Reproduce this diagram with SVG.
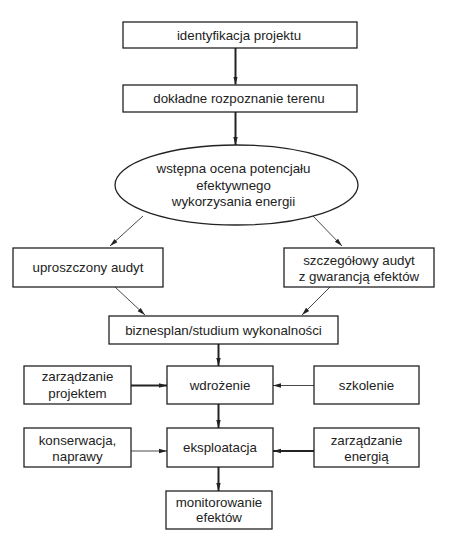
<svg xmlns="http://www.w3.org/2000/svg" width="471" height="540" viewBox="0 0 471 540">
<defs>
<style>
.box{fill:#fff;stroke:#222;stroke-width:1.3}
.t{font-family:"Liberation Sans",Arial,sans-serif;font-size:13.3px;fill:#222;text-anchor:middle}
.thick{stroke:#222;stroke-width:2;fill:none}
.thin{stroke:#333;stroke-width:0.9;fill:none}
</style>
<marker id="ah" viewBox="0 0 8 6" refX="8" refY="3" markerWidth="8" markerHeight="6" markerUnits="userSpaceOnUse" orient="auto">
<path d="M0,0.8 L8,3 L0,5.2 Z" fill="#222"/>
</marker>
</defs>
<rect width="471" height="540" fill="#fff"/>
<g id="connectors">
<line class="thick" x1="235.5" y1="48" x2="235.5" y2="84.5" marker-end="url(#ah)"/>
<line class="thick" x1="235.5" y1="112" x2="235.5" y2="145" marker-end="url(#ah)"/>
<line class="thin" x1="143" y1="216" x2="110" y2="246" marker-end="url(#ah)"/>
<line class="thin" x1="313" y1="216" x2="342" y2="246" marker-end="url(#ah)"/>
<line class="thin" x1="115" y1="287" x2="145" y2="315" marker-end="url(#ah)"/>
<line class="thin" x1="330" y1="287" x2="302" y2="315" marker-end="url(#ah)"/>
<line class="thick" x1="218.5" y1="344" x2="218.5" y2="366" marker-end="url(#ah)"/>
<line class="thick" x1="131" y1="385.5" x2="167" y2="385.5" marker-end="url(#ah)"/>
<line class="thin" x1="314" y1="385.5" x2="273" y2="385.5" marker-end="url(#ah)"/>
<line class="thick" x1="218.5" y1="404" x2="218.5" y2="428" marker-end="url(#ah)"/>
<line class="thin" x1="131" y1="451" x2="167" y2="451" marker-end="url(#ah)"/>
<line class="thick" x1="314" y1="451" x2="273" y2="451" marker-end="url(#ah)"/>
<line class="thick" x1="218.5" y1="467" x2="218.5" y2="491" marker-end="url(#ah)"/>
</g>
<g id="n1"><rect class="box" x="123" y="22" width="234" height="26"/><text class="t" x="239" y="39.7">identyfikacja projektu</text></g>
<g id="n2"><rect class="box" x="123" y="85" width="234" height="27"/><text class="t" x="239" y="103.2">dokładne rozpoznanie terenu</text></g>
<g id="n3"><ellipse class="box" cx="236.5" cy="185" rx="121.5" ry="40"/>
<text class="t" x="233.5" y="172.7">wstępna ocena potencjału</text>
<text class="t" x="233.5" y="189.5">efektywnego</text>
<text class="t" x="233.5" y="206">wykorzysania energii</text></g>
<g id="n4"><rect class="box" x="13" y="248" width="150" height="39"/><text class="t" x="88" y="272.2">uproszczony audyt</text></g>
<g id="n5"><rect class="box" x="284" y="248" width="150" height="39"/><text class="t" x="359" y="264.7">szczegółowy audyt</text><text class="t" x="359" y="281.4">z gwarancją efektów</text></g>
<g id="n6"><rect class="box" x="109" y="316" width="229" height="28"/><text class="t" x="223.5" y="334.7">biznesplan/studium wykonalności</text></g>
<g id="n7"><rect class="box" x="24" y="366" width="107" height="38"/><text class="t" x="77.5" y="381.4">zarządzanie</text><text class="t" x="77.5" y="398">projektem</text></g>
<g id="n8"><rect class="box" x="167" y="366" width="106" height="38"/><text class="t" x="220" y="389.7">wdrożenie</text></g>
<g id="n9"><rect class="box" x="314" y="366" width="105" height="38"/><text class="t" x="366.5" y="389.7">szkolenie</text></g>
<g id="n10"><rect class="box" x="24" y="428" width="107" height="39"/><text class="t" x="77.5" y="444.7">konserwacja,</text><text class="t" x="77.5" y="460.7">naprawy</text></g>
<g id="n11"><rect class="box" x="167" y="428" width="106" height="39"/><text class="t" x="220" y="452.2">eksploatacja</text></g>
<g id="n12"><rect class="box" x="314" y="428" width="105" height="39"/><text class="t" x="366.5" y="444.7">zarządzanie</text><text class="t" x="366.5" y="460.7">energią</text></g>
<g id="n13"><rect class="box" x="166" y="491" width="106" height="38"/><text class="t" x="219" y="507.4">monitorowanie</text><text class="t" x="219" y="522">efektów</text></g>
</svg>
